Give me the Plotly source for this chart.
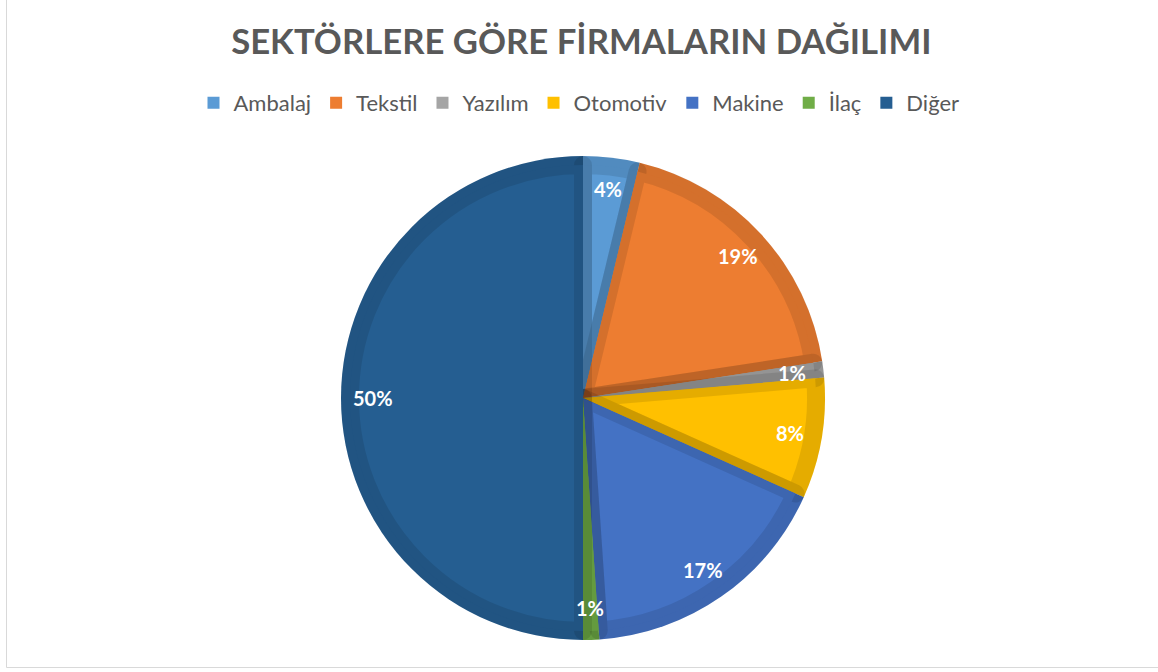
import math
import plotly.graph_objects as go

# ---- data ----
sectors = ["Ambalaj", "Tekstil", "Yazılım", "Otomotiv", "Makine", "İlaç", "Diğer"]
firm_counts = [7, 35, 2, 15, 32, 2, 93]
fill_colors = ["#5B9BD5", "#ED7D31", "#A5A5A5", "#FFC000", "#4472C4", "#70AD47", "#255E91"]
title_text = "SEKTÖRLERE GÖRE FİRMALARIN DAĞILIMI"

W, H = 1158, 672
cx, cy = 583, 398          # pie centre (px)
r_out = 242                # outer radius (px)
band = 9                   # half of inner border band
FONT = "Lato, 'Open Sans', sans-serif"


def dom(r):
    return dict(x=[(cx - r) / W, (cx + r) / W], y=[1 - (cy + r) / H, 1 - (cy - r) / H])


fig = go.Figure()
# base pie: full radius, plain colours (also used for the legend)
fig.add_trace(go.Pie(
    labels=sectors, values=firm_counts, sort=False, direction="clockwise", rotation=0,
    marker=dict(colors=fill_colors, line=dict(width=0)),
    textinfo="none", hoverinfo="skip", domain=dom(r_out), showlegend=True,
))
# top pie: slightly smaller, with translucent dark stroke giving the bevelled border
fig.add_trace(go.Pie(
    labels=sectors, values=firm_counts, sort=False, direction="clockwise", rotation=0,
    marker=dict(colors=fill_colors, line=dict(color="rgba(0,0,0,0.1)", width=2 * band)),
    textinfo="none", hoverinfo="skip", domain=dom(r_out - band), showlegend=False,
))

# percentage labels placed along slice mid-angles
total = sum(firm_counts)
cum = 0
annotations = []
r_lab = 210
for name, v in zip(sectors, firm_counts):
    mid = (cum + v / 2) / total * 2 * math.pi
    cum += v
    px = cx + r_lab * math.sin(mid)
    py = cy - r_lab * math.cos(mid)
    annotations.append(dict(
        x=px / W, y=1 - py / H, xref="paper", yref="paper", showarrow=False,
        text=f"<b>{round(v / total * 100)}%</b>",
        font=dict(family=FONT, size=20, color="white"),
        xanchor="center", yanchor="middle",
    ))

fig.update_layout(
    width=W, height=H,
    margin=dict(l=0, r=0, t=0, b=0),
    paper_bgcolor="white", plot_bgcolor="white",
    title=dict(text=f"<b>{title_text}</b>", x=0.502, xanchor="center",
               y=1 - 42 / H, yanchor="middle",
               font=dict(family=FONT, size=34.7, color="#595959")),
    legend=dict(orientation="h", x=0.5, xanchor="center", y=1 - 103 / H, yanchor="middle",
                font=dict(family=FONT, size=22, color="#595959"),
                itemwidth=30, traceorder="normal"),
    annotations=annotations,
    shapes=[dict(type="rect", xref="paper", yref="paper",
                 x0=6.5 / W, x1=1.01, y0=1 - 667.5 / H, y1=1.01,
                 line=dict(color="#D9D9D9", width=1), fillcolor="rgba(0,0,0,0)", layer="below")],
)

fig.write_html("out.html", config={"displayModeBar": False},
               post_script="document.body.style.margin='0';document.body.style.overflow='hidden';")
